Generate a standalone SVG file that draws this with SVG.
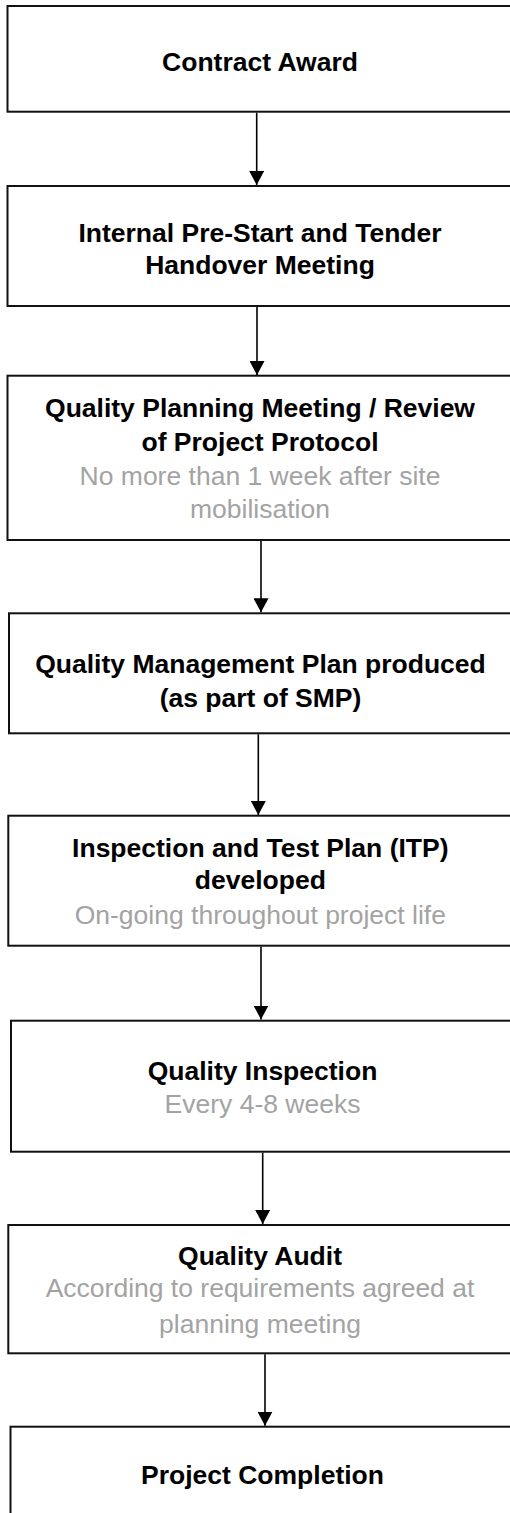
<svg xmlns="http://www.w3.org/2000/svg" width="510" height="1513" viewBox="0 0 510 1513">
<defs>
<style>
.box{fill:#fff;stroke:#111;stroke-width:2}
.t{font-family:"Liberation Sans",Arial,sans-serif;font-size:26.5px;text-anchor:middle}
.b{font-weight:bold;fill:#000}
.g{fill:#a3a3a3}
.c{stroke:#000;stroke-width:1.6;fill:none}
</style>
<marker id="ah" markerUnits="userSpaceOnUse" markerWidth="15" markerHeight="15" refX="14" refY="7.5" orient="auto" viewBox="0 0 15 15">
<path d="M0,0 L14,7.5 L0,15 z" fill="#000"/>
</marker>
</defs>
<rect width="510" height="1513" fill="#fff"/>
<g id="n1">
<rect class="box" x="7.5" y="6" width="520" height="105.7"/>
<text class="t b" x="260" y="70.7">Contract Award</text>
</g>
<g id="n2">
<rect class="box" x="7.5" y="186" width="520" height="120"/>
<text class="t b" x="260" y="241.7">Internal Pre-Start and Tender</text>
<text class="t b" x="260" y="274">Handover Meeting</text>
</g>
<g id="n3">
<rect class="box" x="7.5" y="375.7" width="520" height="164.3"/>
<text class="t b" x="260" y="417.3">Quality Planning Meeting / Review</text>
<text class="t b" x="260" y="450.7">of Project Protocol</text>
<text class="t g" x="260" y="485">No more than 1 week after site</text>
<text class="t g" x="260" y="518.3">mobilisation</text>
</g>
<g id="n4">
<rect class="box" x="9" y="613.3" width="520" height="120"/>
<text class="t b" x="260.5" y="673.3">Quality Management Plan produced</text>
<text class="t b" x="260.5" y="706.7">(as part of SMP)</text>
</g>
<g id="n5">
<rect class="box" x="8.3" y="815.7" width="520" height="130"/>
<text class="t b" x="260.3" y="856.7">Inspection and Test Plan (ITP)</text>
<text class="t b" x="260.3" y="888.7">developed</text>
<text class="t g" x="260.3" y="924">On-going throughout project life</text>
</g>
<g id="n6">
<rect class="box" x="11" y="1020.7" width="520" height="131"/>
<text class="t b" x="262.5" y="1080">Quality Inspection</text>
<text class="t g" x="262.5" y="1113.3">Every 4-8 weeks</text>
</g>
<g id="n7">
<rect class="box" x="8.3" y="1225" width="520" height="128.3"/>
<text class="t b" x="260" y="1265">Quality Audit</text>
<text class="t g" x="260" y="1297.3">According to requirements agreed at</text>
<text class="t g" x="260" y="1333.3">planning meeting</text>
</g>
<g id="n8">
<rect class="box" x="10.5" y="1426.7" width="520" height="110"/>
<text class="t b" x="262.5" y="1484">Project Completion</text>
</g>
<g id="connectors">
<line class="c" x1="256.7" y1="112.7" x2="256.7" y2="185" marker-end="url(#ah)"/>
<line class="c" x1="257" y1="307" x2="257" y2="375" marker-end="url(#ah)"/>
<line class="c" x1="261" y1="541" x2="261" y2="612.3" marker-end="url(#ah)"/>
<line class="c" x1="258.3" y1="734.3" x2="258.3" y2="815" marker-end="url(#ah)"/>
<line class="c" x1="261" y1="946.7" x2="261" y2="1019.5" marker-end="url(#ah)"/>
<line class="c" x1="262.7" y1="1152.7" x2="262.7" y2="1224" marker-end="url(#ah)"/>
<line class="c" x1="265" y1="1354.3" x2="265" y2="1425.7" marker-end="url(#ah)"/>
</g>
</svg>
